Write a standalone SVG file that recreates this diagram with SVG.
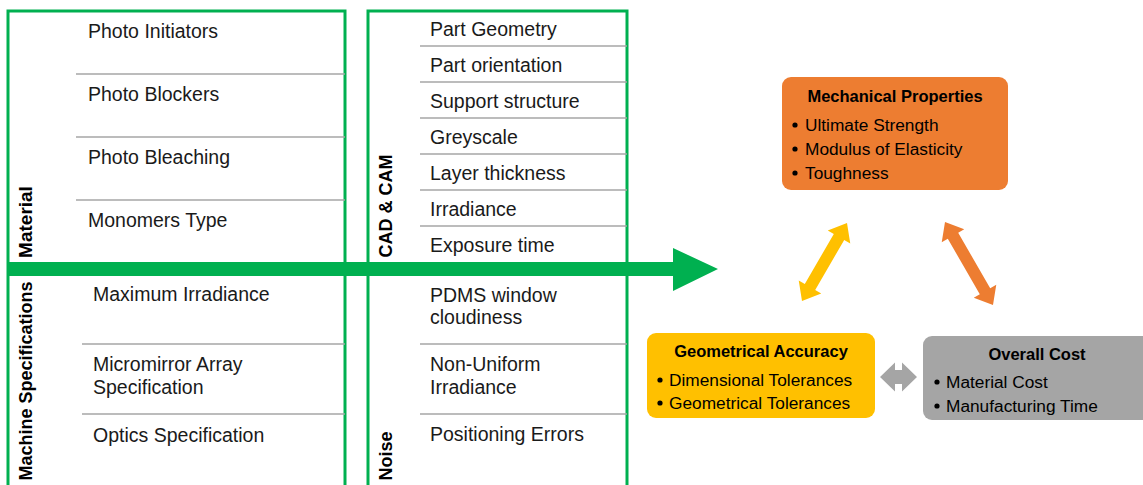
<svg xmlns="http://www.w3.org/2000/svg" width="1143" height="485" viewBox="0 0 1143 485">
<style>
.box{fill:none;stroke:#00B050;stroke-width:3}
.sep{stroke:#A6A6A6;stroke-width:1.5}
.t{font-family:"Liberation Sans",Arial,sans-serif;font-size:19.5px;fill:#1a1a1a}
.m{font-family:"Liberation Sans",Arial,sans-serif;font-size:19.5px;fill:#1a1a1a}
.v{font-family:"Liberation Sans",Arial,sans-serif;font-size:18px;font-weight:bold;fill:#000;text-anchor:middle}
.h{font-family:"Liberation Sans",Arial,sans-serif;font-size:16.5px;font-weight:bold;fill:#000;text-anchor:middle}
.b{font-family:"Liberation Sans",Arial,sans-serif;font-size:17.3px;fill:#000}
.d{fill:#000}
</style>
<rect width="1143" height="485" fill="#fff"/>
<g id="left-panel">
<rect class="box" x="8" y="11" width="337" height="480"/>
<line class="sep" x1="76" y1="74" x2="345" y2="74"/>
<line class="sep" x1="76" y1="137" x2="345" y2="137"/>
<line class="sep" x1="76" y1="200" x2="345" y2="200"/>
<line class="sep" x1="82" y1="344" x2="345" y2="344"/>
<line class="sep" x1="82" y1="414" x2="345" y2="414"/>
<text class="t" x="88" y="38">Photo Initiators</text>
<text class="t" x="88" y="101">Photo Blockers</text>
<text class="t" x="88" y="164">Photo Bleaching</text>
<text class="t" x="88" y="227">Monomers Type</text>
<text class="t" x="93" y="301">Maximum Irradiance</text>
<text class="t" x="93" y="371">Micromirror Array</text>
<text class="t" x="93" y="394">Specification</text>
<text class="t" x="93" y="442">Optics Specification</text>
<text class="v" transform="translate(32,222) rotate(-90)" style="font-size:19px">Material</text>
<text class="v" transform="translate(32,381) rotate(-90)">Machine Specifications</text>
</g>
<g id="middle-panel">
<rect class="box" x="368" y="11" width="259" height="480"/>
<line class="sep" x1="420" y1="46" x2="627" y2="46"/>
<line class="sep" x1="420" y1="82" x2="627" y2="82"/>
<line class="sep" x1="420" y1="118" x2="627" y2="118"/>
<line class="sep" x1="420" y1="154" x2="627" y2="154"/>
<line class="sep" x1="420" y1="190" x2="627" y2="190"/>
<line class="sep" x1="420" y1="226" x2="627" y2="226"/>
<line class="sep" x1="420" y1="344" x2="627" y2="344"/>
<line class="sep" x1="420" y1="414" x2="627" y2="414"/>
<text class="m" x="430" y="36">Part Geometry</text>
<text class="m" x="430" y="72">Part orientation</text>
<text class="m" x="430" y="108">Support structure</text>
<text class="m" x="430" y="144">Greyscale</text>
<text class="m" x="430" y="180">Layer thickness</text>
<text class="m" x="430" y="216">Irradiance</text>
<text class="m" x="430" y="252">Exposure time</text>
<text class="m" x="430" y="302">PDMS window</text>
<text class="m" x="430" y="324">cloudiness</text>
<text class="m" x="430" y="371">Non-Uniform</text>
<text class="m" x="430" y="394">Irradiance</text>
<text class="m" x="430" y="441">Positioning Errors</text>
<text class="v" transform="translate(392,206) rotate(-90)">CAD &amp; CAM</text>
<text class="v" transform="translate(392,456) rotate(-90)">Noise</text>
</g>
<g id="connectors">
<polygon fill="#00B050" points="7,262 673,262 673,248 718,269 673,291 673,276 7,276"/>
<polygon fill="#FFC000" transform="translate(824.5,262) rotate(-60)" points="-45,0 -29,-13 -29,-6 29,-6 29,-13 45,0 29,13 29,6 -29,6 -29,13"/>
<polygon fill="#ED7D31" transform="translate(969,263.5) rotate(60)" points="-48,0 -32,-13 -32,-6 32,-6 32,-13 48,0 32,13 32,6 -32,6 -32,13"/>
<polygon fill="#A5A5A5" points="880,377 895,362.5 895,370 902,370 902,362.5 917,377 902,391.5 902,384 895,384 895,391.5"/>
</g>
<g id="mechanical">
<rect x="782" y="77" width="226" height="113" rx="9" fill="#ED7D31"/>
<text class="h" x="895" y="102">Mechanical Properties</text>
<circle class="d" cx="795" cy="125" r="2.6"/><text class="b" x="805" y="131">Ultimate Strength</text>
<circle class="d" cx="795" cy="149" r="2.6"/><text class="b" x="805" y="155">Modulus of Elasticity</text>
<circle class="d" cx="795" cy="173" r="2.6"/><text class="b" x="805" y="179">Toughness</text>
</g>
<g id="geometrical">
<rect x="647" y="333" width="228" height="85" rx="9" fill="#FFC000"/>
<text class="h" x="761" y="357">Geometrical Accuracy</text>
<circle class="d" cx="660" cy="380" r="2.6"/><text class="b" x="669" y="386">Dimensional Tolerances</text>
<circle class="d" cx="660" cy="403" r="2.6"/><text class="b" x="669" y="409">Geometrical Tolerances</text>
</g>
<g id="cost">
<rect x="923" y="336" width="240" height="84" rx="9" fill="#A5A5A5"/>
<text class="h" x="1037" y="360">Overall Cost</text>
<circle class="d" cx="937" cy="382" r="2.6"/><text class="b" x="946" y="388">Material Cost</text>
<circle class="d" cx="937" cy="406" r="2.6"/><text class="b" x="946" y="412">Manufacturing Time</text>
</g>
</svg>
